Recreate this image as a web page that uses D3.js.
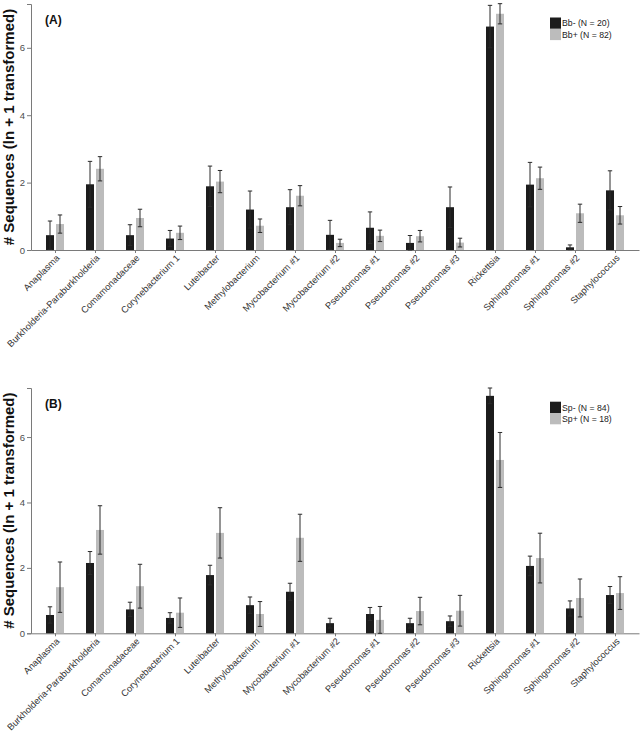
<!DOCTYPE html>
<html>
<head>
<meta charset="utf-8">
<script src="https://cdn.jsdelivr.net/npm/d3@7"></script>
<style>
  body { margin: 0; background: #fff; }
  text { font-family: "Liberation Sans", Arial, sans-serif; }
</style>
</head>
<body>
<svg class="chart" width="642" height="733"></svg>
<script>
var genera = ['Anaplasma', 'Burkholderia-Paraburkholderia', 'Comamonadaceae', 'Corynebacterium 1',
  'Luteibacter', 'Methylobacterium', 'Mycobacterium #1', 'Mycobacterium #2', 'Pseudomonas #1',
  'Pseudomonas #2', 'Pseudomonas #3', 'Rickettsia', 'Sphingomonas #1', 'Sphingomonas #2', 'Staphylococcus'];

// panel A: Bb- / Bb+
var bbNeg = [0.44, 1.95, 0.44, 0.34, 1.89, 1.20, 1.27, 0.45, 0.66, 0.21, 1.27, 6.63, 1.94, 0.08, 1.77];
var bbNegSe = [0.42, 0.68, 0.31, 0.24, 0.60, 0.55, 0.52, 0.43, 0.47, 0.22, 0.60, 0.63, 0.66, 0.07, 0.58];
var bbPos = [0.77, 2.41, 0.95, 0.51, 2.03, 0.72, 1.61, 0.21, 0.42, 0.41, 0.22, 7.01, 2.13, 1.09, 1.03];
var bbPosSe = [0.27, 0.36, 0.26, 0.20, 0.33, 0.20, 0.30, 0.11, 0.17, 0.17, 0.13, 0.30, 0.33, 0.27, 0.26];

// panel B: Sp- / Sp+
var spNeg = [0.56, 2.15, 0.73, 0.47, 1.78, 0.86, 1.27, 0.31, 0.59, 0.31, 0.37, 7.26, 2.06, 0.76, 1.17];
var spNegSe = [0.25, 0.35, 0.22, 0.16, 0.30, 0.25, 0.26, 0.15, 0.20, 0.15, 0.16, 0.24, 0.30, 0.23, 0.26];
var spPos = [1.41, 3.16, 1.44, 0.63, 3.07, 0.59, 2.92, 0, 0.41, 0.68, 0.69, 5.30, 2.30, 1.08, 1.23];
var spPosSe = [0.77, 0.74, 0.67, 0.45, 0.77, 0.38, 0.72, 0, 0.41, 0.42, 0.47, 0.84, 0.76, 0.58, 0.50];

var yTicks = [0, 2, 4, 6];
var yTitle = '# Sequences (ln + 1 transformed)';

var svg = d3.select('.chart');
var colors = ['#1c1c1c', '#bcbcbc'];
var axisColor = '#7a7a7a';

var x = d3.scaleLinear().domain([-0.6, genera.length - 0.4]).range([31, 639]);
var dodge = 0.125, barW = 0.2;

function panel(opts) {
  var y = d3.scaleLinear().domain([0, opts.ymax]).range([opts.bottom, opts.top]);
  var g = svg.append('g');

  // y axis
  var yAxis = d3.axisLeft(y).tickValues(yTicks).tickSize(4).tickPadding(2);
  var ya = g.append('g').attr('transform', 'translate(31,0)').call(yAxis);
  ya.select('.domain').attr('stroke', axisColor);
  ya.selectAll('.tick line').attr('stroke', axisColor);
  ya.selectAll('.tick text').attr('fill', '#4d4d4d').style('font-size', '9.5px');

  // x axis
  var xAxis = d3.axisBottom(x).tickValues(d3.range(genera.length))
    .tickFormat(function(i) { return genera[i]; }).tickSize(3).tickSizeOuter(0).tickPadding(2);
  var xa = g.append('g').attr('transform', 'translate(0,' + opts.bottom + ')').call(xAxis);
  xa.select('.domain').attr('stroke', axisColor);
  xa.selectAll('.tick line').attr('stroke', axisColor);
  xa.selectAll('.tick text')
    .attr('fill', '#333')
    .style('font-size', '9.3px')
    .style('text-anchor', 'end')
    .attr('dy', '0.35em')
    .attr('transform', 'translate(1,2) rotate(-45)')
    .attr('x', -2).attr('y', 4);

  // bars + error bars for both groups
  [0, 1].forEach(function(k) {
    var off = k == 0 ? -dodge : dodge;
    var rows = opts.means[k].map(function(m, i) { return {i: i, m: m, se: opts.ses[k][i]}; });
    g.selectAll('.bar' + k).data(rows).enter().append('rect')
      .attr('class', 'bar' + k)
      .attr('x', function(d) { return x(d.i + off - barW / 2); })
      .attr('width', x(barW) - x(0))
      .attr('y', function(d) { return y(d.m); })
      .attr('height', function(d) { return y(0) - y(d.m); })
      .attr('fill', colors[k]);

    var eb = g.selectAll('.err' + k).data(rows.filter(function(d) { return d.se > 0; }))
      .enter().append('g').attr('class', 'err' + k)
      .attr('stroke', '#2a2a2a').attr('stroke-width', 1);
    eb.append('line')
      .attr('x1', function(d) { return x(d.i + off); })
      .attr('x2', function(d) { return x(d.i + off); })
      .attr('y1', function(d) { return y(Math.max(0, d.m - d.se)); })
      .attr('y2', function(d) { return y(d.m + d.se); });
    [1, -1].forEach(function(s) {
      eb.append('line')
        .attr('x1', function(d) { return x(d.i + off) - 2.2; })
        .attr('x2', function(d) { return x(d.i + off) + 2.2; })
        .attr('y1', function(d) { return y(Math.max(0, d.m + s * d.se)); })
        .attr('y2', function(d) { return y(Math.max(0, d.m + s * d.se)); });
    });
  });

  // y title
  g.append('text')
    .attr('transform', 'translate(14,' + (opts.top + opts.bottom) / 2 + ') rotate(-90)')
    .attr('text-anchor', 'middle')
    .style('font-size', '15px').style('font-weight', 'bold')
    .attr('fill', '#111')
    .text(yTitle);

  // panel tag
  g.append('text')
    .attr('x', 45).attr('y', opts.top + 20)
    .style('font-size', '12px').style('font-weight', 'bold')
    .attr('fill', '#111')
    .text(opts.tag);

  // legend
  var lg = g.append('g').attr('transform', 'translate(550,' + opts.legendY + ')');
  opts.legend.forEach(function(lab, k) {
    lg.append('rect').attr('x', 0).attr('y', k * 11.3).attr('width', 11).attr('height', 11.3)
      .attr('fill', colors[k]);
    lg.append('text').attr('x', 12).attr('y', k * 11.3 + 5.8).attr('dy', '0.35em')
      .style('font-size', '8.7px').attr('fill', '#222').text(lab);
  });
}

panel({top: 4, bottom: 250, ymax: 7.3, tag: '(A)', legendY: 17.5,
  means: [bbNeg, bbPos], ses: [bbNegSe, bbPosSe], legend: ['Bb- (N = 20)', 'Bb+ (N = 82)']});
panel({top: 388, bottom: 633.3, ymax: 7.5, tag: '(B)', legendY: 401.7,
  means: [spNeg, spPos], ses: [spNegSe, spPosSe], legend: ['Sp- (N = 84)', 'Sp+ (N = 18)']});
</script>
</body>
</html>
